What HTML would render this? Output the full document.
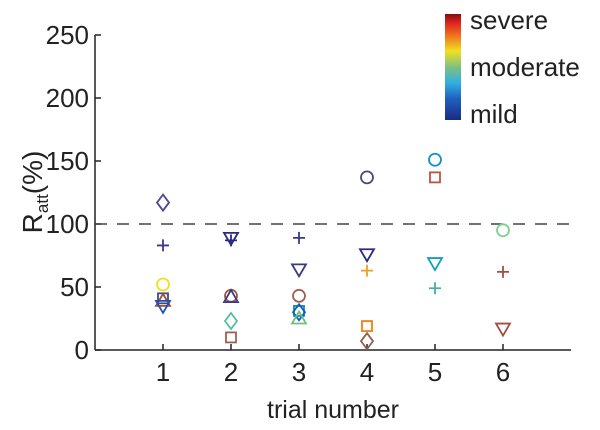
<!DOCTYPE html>
<html><head><meta charset="utf-8"><style>
body{margin:0;background:#fff;}
svg{display:block;font-family:"Liberation Sans",Arial,sans-serif;}
</style></head><body>
<svg id="chart" width="600" height="430">
<defs><linearGradient id="cb" x1="0" y1="1" x2="0" y2="0">
<stop offset="0" stop-color="#1a2a80"/><stop offset="0.2" stop-color="#2060c0"/><stop offset="0.35" stop-color="#30b0e0"/><stop offset="0.5" stop-color="#80c080"/><stop offset="0.65" stop-color="#f0e020"/><stop offset="0.8" stop-color="#f07020"/><stop offset="0.92" stop-color="#e02020"/><stop offset="1" stop-color="#801010"/></linearGradient></defs>
<g id="plot"></g>
<rect x="445" y="14" width="16" height="106" fill="url(#cb)"/>
<text x="470" y="29" font-size="26" fill="#222">severe</text>
<text x="470" y="76" font-size="26" fill="#222">moderate</text>
<text x="470" y="123" font-size="26" fill="#222">mild</text>
<text x="333" y="418" font-size="25" fill="#222" text-anchor="middle">trial number</text>
<text transform="translate(42,192) rotate(-90)" font-size="28" fill="#222" text-anchor="middle">R<tspan font-size="17" dy="6">att</tspan><tspan dy="-6">(%)</tspan></text>
</svg>
<script>
const xTicks=[1,2,3,4,5,6];
const yTicks=[0,50,100,150,200,250];
const trials=[1,1,1,1,1,1, 2,2,2,2,2,2, 3,3,3,3,3,3, 4,4,4,4,4, 5,5,5,5, 6,6,6];
const values=[117,83,52,41,39,35, 89,87,43,42,23,10, 89,64,43,31,30,25, 137,76,63,19,7, 151,137,69,49, 95,62,17];
const markers=['diamond','plus','circle','square','up','down', 'down','plus','circle','up','diamond','square', 'plus','down','circle','square','diamond','up', 'circle','down','plus','square','diamond', 'circle','square','down','plus', 'circle','plus','down'];
const colors=['#4a4a8a','#3a3a88','#f0e020','#3a4a90','#a05030','#2050b0', '#2a2a80','#2a2a80','#a05a40','#3a3a88','#50c0a0','#a06050', '#3a3a88','#3a3a88','#a06050','#2080d0','#1060b0','#70c080', '#4a4a7a','#2a2a80','#f0a020','#f08010','#906050', '#1090d0','#c05040','#10a0c0','#40b0a0', '#80d090','#a05040','#a05040'];
const refLine=100;
const NS='http://www.w3.org/2000/svg';
const X0=95,X1=571,Y0=350,Y1=35;
const xs=v=>X0+(v/7)*(X1-X0);
const ys=v=>Y0-(v/250)*(Y0-Y1);
const g=document.getElementById('plot');
function mk(t,a){const e=document.createElementNS(NS,t);for(const k in a)e.setAttribute(k,a[k]);g.appendChild(e);return e;}
let e=mk('line',{x1:X0,y1:Y1,x2:X0,y2:Y0,stroke:'#222','stroke-width':1.5});


e=mk('line',{x1:X0,y1:Y0,x2:X1,y2:Y0,stroke:'#222','stroke-width':1.5});


yTicks.forEach(v=>{
  mk('line',{x1:X0,y1:ys(v),x2:X0+6,y2:ys(v),stroke:'#222','stroke-width':1.5});
  const t=mk('text',{x:X0-6,y:ys(v)+9,'font-size':26,fill:'#222','text-anchor':'end'});t.textContent=v;
  
  
});
xTicks.forEach(v=>{
  mk('line',{x1:xs(v),y1:Y0,x2:xs(v),y2:Y0-6,stroke:'#222','stroke-width':1.5});
  const t=mk('text',{x:xs(v),y:Y0+31,'font-size':26,fill:'#222','text-anchor':'middle'});t.textContent=v;
  
  
});
e=mk('line',{x1:X0,y1:ys(refLine),x2:X1,y2:ys(refLine),stroke:'#444','stroke-width':1.5,'stroke-dasharray':'12 10'});


trials.forEach((tr,i)=>{
  const x=xs(tr),y=ys(values[i]),c=colors[i],s=6;let m;
  const st={fill:'none',stroke:c,'stroke-width':1.8};
  if(markers[i]==='circle')m=mk('circle',Object.assign({cx:x,cy:y,r:s},st));
  else if(markers[i]==='square')m=mk('rect',Object.assign({x:x-5,y:y-5,width:10,height:10},st));
  else if(markers[i]==='diamond')m=mk('polygon',Object.assign({points:`${x},${y-8} ${x+6},${y} ${x},${y+8} ${x-6},${y}`},st));
  else if(markers[i]==='up')m=mk('polygon',Object.assign({points:`${x},${y-7} ${x+7},${y+5} ${x-7},${y+5}`},st));
  else if(markers[i]==='down')m=mk('polygon',Object.assign({points:`${x},${y+7} ${x+7},${y-5} ${x-7},${y-5}`},st));
  else m=mk('path',Object.assign({d:`M${x-6},${y}H${x+6}M${x},${y-6}V${y+6}`},st));
  
  
});
</script>
</body></html>
